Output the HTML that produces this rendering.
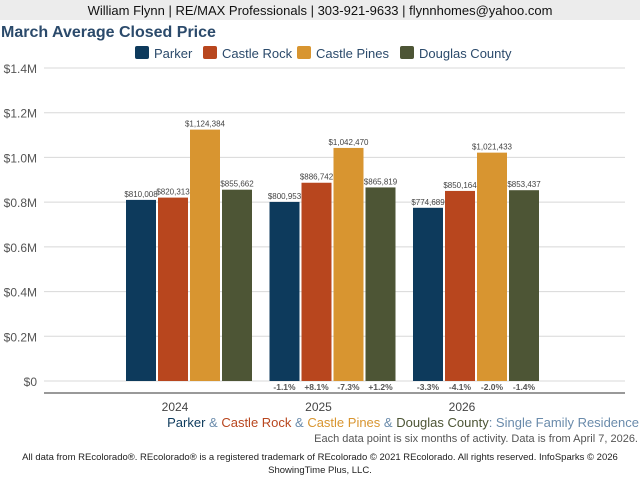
<!DOCTYPE html>
<html><head><meta charset="utf-8"><style>
body{margin:0;width:640px;height:480px;background:#fff;font-family:"Liberation Sans",sans-serif;overflow:hidden;position:relative}
.t{position:absolute;white-space:nowrap}
</style></head><body>
<div style="position:absolute;left:0;top:0;width:640px;height:20px;background:#ececec"></div>
<div class="t" style="left:0;width:640px;top:3px;text-align:center;font-size:13px;color:#111">William Flynn | RE/MAX Professionals | 303-921-9633 | flynnhomes@yahoo.com</div>
<div class="t" style="left:1px;top:24px;font-size:16px;font-weight:bold;color:#2b4a6b">March Average Closed Price</div>
<svg id="c" width="640" height="480" style="position:absolute;left:0;top:0"></svg>
<div class="t" style="right:1px;top:415px;font-size:13px"><span style="color:#0d3a5c">Parker</span><span style="color:#6a8bab"> &amp; </span><span style="color:#b8461e">Castle Rock</span><span style="color:#6a8bab"> &amp; </span><span style="color:#d89530">Castle Pines</span><span style="color:#6a8bab"> &amp; </span><span style="color:#4d5535">Douglas County</span><span style="color:#6a8bab">: Single Family Residence</span></div>
<div class="t" style="right:2px;top:433px;font-size:11px;color:#555">Each data point is six months of activity. Data is from April 7, 2026.</div>
<div class="t" style="left:0;width:640px;top:451px;text-align:center;font-size:9.5px;color:#222;white-space:normal;line-height:13px">All data from REcolorado®. REcolorado® is a registered trademark of REcolorado © 2021 REcolorado. All rights reserved. InfoSparks © 2026<br>ShowingTime Plus, LLC.</div>
<script>
const years=["2024","2025","2026"];
const seriesNames=["Parker","Castle Rock","Castle Pines","Douglas County"];
const colors=["#0d3a5c","#b8461e","#d89530","#4d5535"];
const parker=[810008,800953,774689];
const castleRock=[820313,886742,850164];
const castlePines=[1124384,1042470,1021433];
const douglas=[855662,865819,853437];
const pctParker=["","-1.1%","-3.3%"];
const pctCastleRock=["","+8.1%","-4.1%"];
const pctCastlePines=["","-7.3%","-2.0%"];
const pctDouglas=["","+1.2%","-1.4%"];
const yTicks=[0,200000,400000,600000,800000,1000000,1200000,1400000];
const yTickLabels=["$0","$0.2M","$0.4M","$0.6M","$0.8M","$1.0M","$1.2M","$1.4M"];
const series=[parker,castleRock,castlePines,douglas];
const pcts=[pctParker,pctCastleRock,pctCastlePines,pctDouglas];
const svg=document.getElementById('c');const NS="http://www.w3.org/2000/svg";
function y(v){return 381-v/1400000*313}
function gx(i){return 175+i*143.5}
function mk(t,a,txt){const e=document.createElementNS(NS,t);for(const k in a)e.setAttribute(k,a[k]);if(txt!==undefined)e.textContent=txt;svg.appendChild(e);return e}
yTicks.forEach((v,i)=>{
 const l=mk('line',{x1:44,x2:625,y1:y(v),y2:y(v),stroke:'#d8d8d8','stroke-width':1});
 
 
 const t=mk('text',{x:37,y:y(v)+5,'text-anchor':'end','font-size':12,fill:'#555','font-family':'Liberation Sans'},yTickLabels[i]);
 
 
});
const ax=mk('line',{x1:44,x2:625,y1:393,y2:393,stroke:'#333','stroke-width':1});


years.forEach((yr,i)=>{
 const t=mk('text',{x:gx(i),y:411,'text-anchor':'middle','font-size':12,fill:'#444','font-family':'Liberation Sans'},yr);
 
 
 series.forEach((s,j)=>{
  const x=gx(i)-49+j*32;
  const r=mk('rect',{x:x,y:y(s[i]),width:30,height:381-y(s[i]),fill:colors[j]});
  
  
  const lb=mk('text',{x:x+15,y:y(s[i])-3,'text-anchor':'middle','font-size':8,fill:'#444','font-family':'Liberation Sans'},'$'+s[i].toLocaleString('en-US'));
  
  
  if(pcts[j][i]){const p=mk('text',{x:x+15,y:390,'text-anchor':'middle','font-size':8.5,'font-weight':'bold',fill:'#555','font-family':'Liberation Sans'},pcts[j][i]);
  
  }
 });
});
const lx=[135,203,297,400];
seriesNames.forEach((n,j)=>{
 const r=mk('rect',{x:lx[j],y:46,width:14,height:13,rx:2,fill:colors[j]});
 
 
 const t=mk('text',{x:lx[j]+19,y:58,'font-size':13,fill:'#2b4a6b','font-family':'Liberation Sans'},n);
 
 
});
</script>
</body></html>
